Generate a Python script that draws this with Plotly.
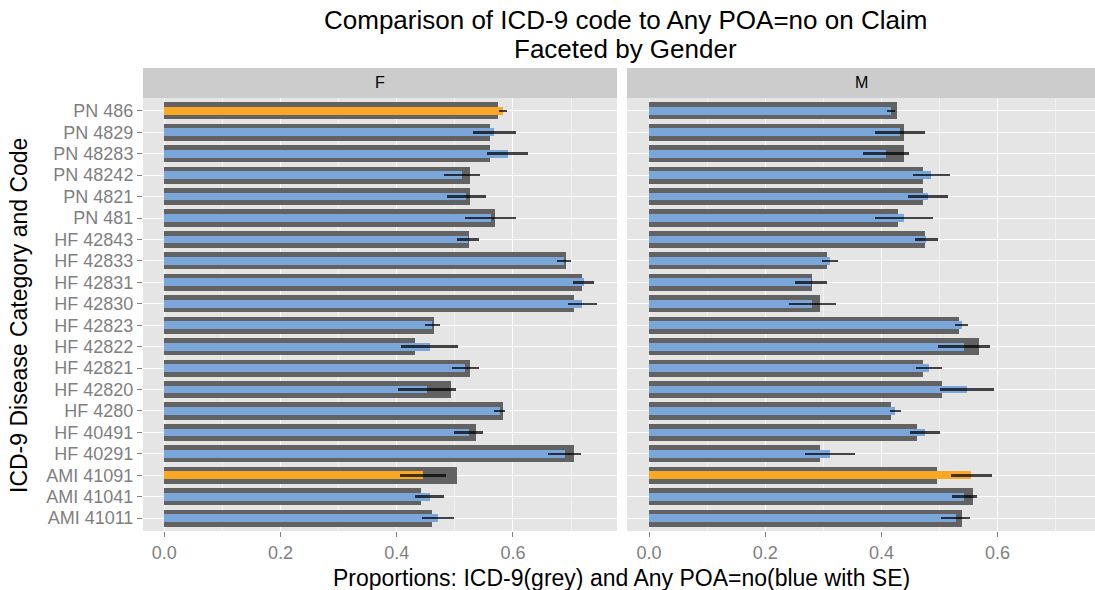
import plotly.graph_objects as go

categories = ["PN 486", "PN 4829", "PN 48283", "PN 48242", "PN 4821", "PN 481",
              "HF 42843", "HF 42833", "HF 42831", "HF 42830", "HF 42823", "HF 42822",
              "HF 42821", "HF 42820", "HF 4280", "HF 40491", "HF 40291",
              "AMI 41091", "AMI 41041", "AMI 41011"]

f_icd9 = [0.574, 0.560, 0.560, 0.527, 0.527, 0.570, 0.524, 0.692, 0.719, 0.705,
          0.464, 0.431, 0.527, 0.494, 0.583, 0.537, 0.706, 0.504, 0.441, 0.461]
f_poa = [0.583, 0.568, 0.591, 0.513, 0.520, 0.562, 0.523, 0.688, 0.722, 0.719,
         0.461, 0.457, 0.518, 0.452, 0.577, 0.524, 0.689, 0.445, 0.457, 0.471]
f_se = [0.007, 0.037, 0.035, 0.031, 0.034, 0.044, 0.019, 0.012, 0.018, 0.025,
        0.013, 0.049, 0.023, 0.050, 0.009, 0.025, 0.029, 0.039, 0.025, 0.027]

m_icd9 = [0.426, 0.439, 0.439, 0.471, 0.471, 0.428, 0.475, 0.306, 0.281, 0.294,
          0.534, 0.568, 0.471, 0.505, 0.416, 0.462, 0.294, 0.495, 0.557, 0.538]
m_poa = [0.417, 0.432, 0.408, 0.486, 0.480, 0.439, 0.477, 0.311, 0.279, 0.281,
         0.538, 0.542, 0.482, 0.547, 0.424, 0.475, 0.311, 0.555, 0.543, 0.528]
m_se = [0.007, 0.043, 0.040, 0.032, 0.034, 0.050, 0.020, 0.014, 0.027, 0.040,
        0.011, 0.045, 0.023, 0.047, 0.010, 0.026, 0.043, 0.035, 0.022, 0.025]

f_highlight = ["PN 486", "AMI 41091"]
m_highlight = ["AMI 41091"]

facets = ["F", "M"]

GREY = "#626262"
BLUE = "#7BA6D9"
ORANGE = "#F9A825"
FONT = "Liberation Sans, Arial, Helvetica, sans-serif"

W, H = 1095, 590
L, R, T, B = 143, 0, 98, 59
PW = W - L - R
PH = H - T - B
ppu = 581.0  # pixels per unit on x

f_dom = [0, 474 / PW]
m_dom = [484 / PW, 1.0]

fig = go.Figure()

def add_facet(icd, poa, se, hl, xa, ya):
    fig.add_trace(go.Bar(
        x=icd, y=categories, orientation="h", width=0.8,
        marker=dict(color=GREY, line=dict(width=0)),
        xaxis=xa, yaxis=ya, showlegend=False, hoverinfo="x+y"))
    colors = [ORANGE if c in hl else BLUE for c in categories]
    fig.add_trace(go.Bar(
        x=poa, y=categories, orientation="h", width=0.36,
        marker=dict(color=colors, line=dict(width=0)),
        error_x=dict(type="data", array=se, visible=True, thickness=2.5,
                     width=0, color="rgba(0,0,0,0.72)"),
        xaxis=xa, yaxis=ya, showlegend=False, hoverinfo="x+y"))

add_facet(f_icd9, f_poa, f_se, f_highlight, "x", "y")
add_facet(m_icd9, m_poa, m_se, m_highlight, "x2", "y2")

tickfont = dict(family=FONT, size=18, color="#7F7F7F")
xtickfont = dict(family=FONT, size=18, color="#7F7F7F")

def xaxis_cfg(dom, width_px, zero_px):
    lo = -zero_px / ppu
    hi = lo + width_px / ppu
    return dict(domain=dom, range=[lo, hi], tickvals=[0, 0.2, 0.4, 0.6],
                tickformat=".1f", showgrid=True, gridcolor="white", gridwidth=1.4,
                minor=dict(tickvals=[0.1, 0.3, 0.5, 0.7], showgrid=True,
                           gridcolor="#F2F2F2", gridwidth=0.6, ticks=""),
                zeroline=False, showline=False, ticks="outside", ticklen=5,
                tickcolor="#7F7F7F", tickwidth=1, tickfont=xtickfont,
                fixedrange=True)

xa1 = xaxis_cfg(f_dom, 474, 164.3 - 143)
xa2 = xaxis_cfg(m_dom, PW - 484, 649 - 627)
xa2["anchor"] = "y2"

yax = dict(type="category", categoryorder="array",
           categoryarray=list(reversed(categories)), range=[-0.6, len(categories) - 0.4],
           tickmode="array", tickvals=categories, ticktext=categories,
           showgrid=True, gridcolor="white", gridwidth=1.4, zeroline=False,
           ticks="outside", ticklen=5, tickcolor="#7F7F7F", tickfont=tickfont,
           fixedrange=True)
ya1 = dict(yax, anchor="x")
ya2 = dict(yax, anchor="x2", matches="y", showticklabels=False, ticks="")

fig.update_layout(
    width=W, height=H,
    margin=dict(l=L, r=R, t=T, b=B, pad=0),
    paper_bgcolor="white", plot_bgcolor="#E5E5E5",
    barmode="overlay", bargap=0,
    xaxis=xa1, xaxis2=xa2, yaxis=ya1, yaxis2=ya2,
    font=dict(family=FONT, color="black"),
    showlegend=False,
)

strip_h = 30 / PH
for name, dom in zip(facets, [f_dom, m_dom]):
    fig.add_shape(type="rect", xref="paper", yref="paper",
                  x0=dom[0], x1=dom[1], y0=1, y1=1 + strip_h,
                  fillcolor="#CCCCCC", line=dict(width=0), layer="below")
    fig.add_annotation(text=name, xref="paper", yref="paper",
                       x=(dom[0] + dom[1]) / 2, y=1 + strip_h / 2,
                       showarrow=False, yanchor="middle", xanchor="center",
                       font=dict(family=FONT, size=16, color="black"))

def py(pix):
    return (H - B - pix) / PH

def px(pix):
    return (pix - L) / PW

fig.add_annotation(text="Comparison of ICD-9 code to Any POA=no on Claim",
                   xref="paper", yref="paper", x=px(625), y=py(20),
                   showarrow=False, xanchor="center", yanchor="middle",
                   borderpad=0, font=dict(family=FONT, size=26, color="black"))
fig.add_annotation(text="Faceted by Gender",
                   xref="paper", yref="paper", x=px(625), y=py(49),
                   showarrow=False, xanchor="center", yanchor="middle",
                   borderpad=0, font=dict(family=FONT, size=26, color="black"))
fig.add_annotation(text="Proportions: ICD-9(grey) and Any POA=no(blue with SE)",
                   xref="paper", yref="paper", x=px(621), y=py(578),
                   showarrow=False, xanchor="center", yanchor="middle",
                   font=dict(family=FONT, size=23, color="black"))
fig.add_annotation(text="ICD-9 Disease Category and Code",
                   xref="paper", yref="paper", x=px(19), y=py(316),
                   showarrow=False, xanchor="center", yanchor="middle", textangle=-90,
                   font=dict(family=FONT, size=23, color="black"))

fig.write_html("out.html")
